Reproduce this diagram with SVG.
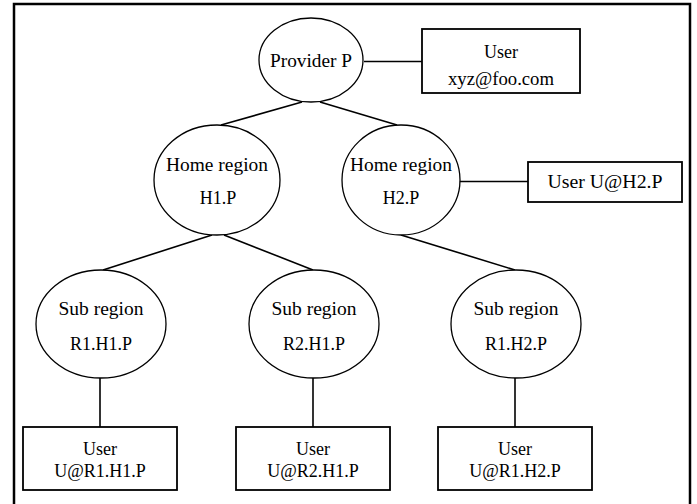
<svg xmlns="http://www.w3.org/2000/svg" width="697" height="504" viewBox="0 0 697 504" font-family="Liberation Serif, serif">
<style>
.n{fill:#fff;stroke:#000;stroke-width:1.3}
.b{fill:#fff;stroke:#000;stroke-width:1.8}
.c{stroke:#000;stroke-width:1.6;fill:none}
.t{font-family:'Liberation Serif',serif;font-size:18px;fill:#000;text-anchor:middle}
</style>
<rect width="697" height="504" fill="#fff"/>
<path d="M14,504V4H690V504" fill="none" stroke="#000" stroke-width="2.5"/>
<g id="connectors">
<line class="c" x1="364" y1="61.5" x2="422" y2="61.5"/>
<line class="c" x1="302" y1="102" x2="221" y2="125"/>
<line class="c" x1="320" y1="102" x2="397" y2="125"/>
<line class="c" x1="459" y1="181.5" x2="528" y2="181.5"/>
<line class="c" x1="212" y1="235" x2="103" y2="270"/>
<line class="c" x1="224" y1="235" x2="313" y2="270"/>
<line class="c" x1="401" y1="235" x2="515" y2="270"/>
<line class="c" x1="100" y1="378" x2="100" y2="427"/>
<line class="c" x1="313" y1="378" x2="313" y2="427"/>
<line class="c" x1="515" y1="378" x2="515" y2="427"/>
</g>
<g id="provider">
<ellipse class="n" cx="311" cy="60" rx="52" ry="42"/>
<text class="t" x="311" y="67" textLength="82" lengthAdjust="spacingAndGlyphs">Provider P</text>
</g>
<g id="user-xyz">
<rect class="b" x="422" y="29" width="158" height="64"/>
<text class="t" x="501" y="58">User</text>
<text class="t" x="501" y="85" textLength="106" lengthAdjust="spacingAndGlyphs">xyz@foo.com</text>
</g>
<g id="home-h1">
<ellipse class="n" cx="217" cy="180" rx="63" ry="55"/>
<text class="t" x="217" y="171" textLength="102" lengthAdjust="spacingAndGlyphs">Home region</text>
<text class="t" x="218" y="204">H1.P</text>
</g>
<g id="home-h2">
<ellipse class="n" cx="401" cy="180" rx="59" ry="55"/>
<text class="t" x="401" y="171" textLength="102" lengthAdjust="spacingAndGlyphs">Home region</text>
<text class="t" x="401" y="204">H2.P</text>
</g>
<g id="user-h2">
<rect class="b" x="528" y="162" width="154" height="40"/>
<text class="t" x="605" y="188" textLength="115" lengthAdjust="spacingAndGlyphs">User U@H2.P</text>
</g>
<g id="sub-r1h1">
<ellipse class="n" cx="101" cy="324" rx="65" ry="54"/>
<text class="t" x="101" y="315" textLength="85" lengthAdjust="spacingAndGlyphs">Sub region</text>
<text class="t" x="101" y="350">R1.H1.P</text>
</g>
<g id="sub-r2h1">
<ellipse class="n" cx="314" cy="324" rx="65" ry="54"/>
<text class="t" x="314" y="315" textLength="85" lengthAdjust="spacingAndGlyphs">Sub region</text>
<text class="t" x="314" y="350">R2.H1.P</text>
</g>
<g id="sub-r1h2">
<ellipse class="n" cx="516" cy="324" rx="65" ry="54"/>
<text class="t" x="516" y="315" textLength="85" lengthAdjust="spacingAndGlyphs">Sub region</text>
<text class="t" x="516" y="350">R1.H2.P</text>
</g>
<g id="user-r1h1">
<rect class="b" x="23" y="427" width="154" height="63"/>
<text class="t" x="100" y="455">User</text>
<text class="t" x="100" y="477">U@R1.H1.P</text>
</g>
<g id="user-r2h1">
<rect class="b" x="236" y="427" width="154" height="63"/>
<text class="t" x="313" y="455">User</text>
<text class="t" x="313" y="477">U@R2.H1.P</text>
</g>
<g id="user-r1h2">
<rect class="b" x="438" y="427" width="154" height="63"/>
<text class="t" x="515" y="455">User</text>
<text class="t" x="515" y="477">U@R1.H2.P</text>
</g>
</svg>
